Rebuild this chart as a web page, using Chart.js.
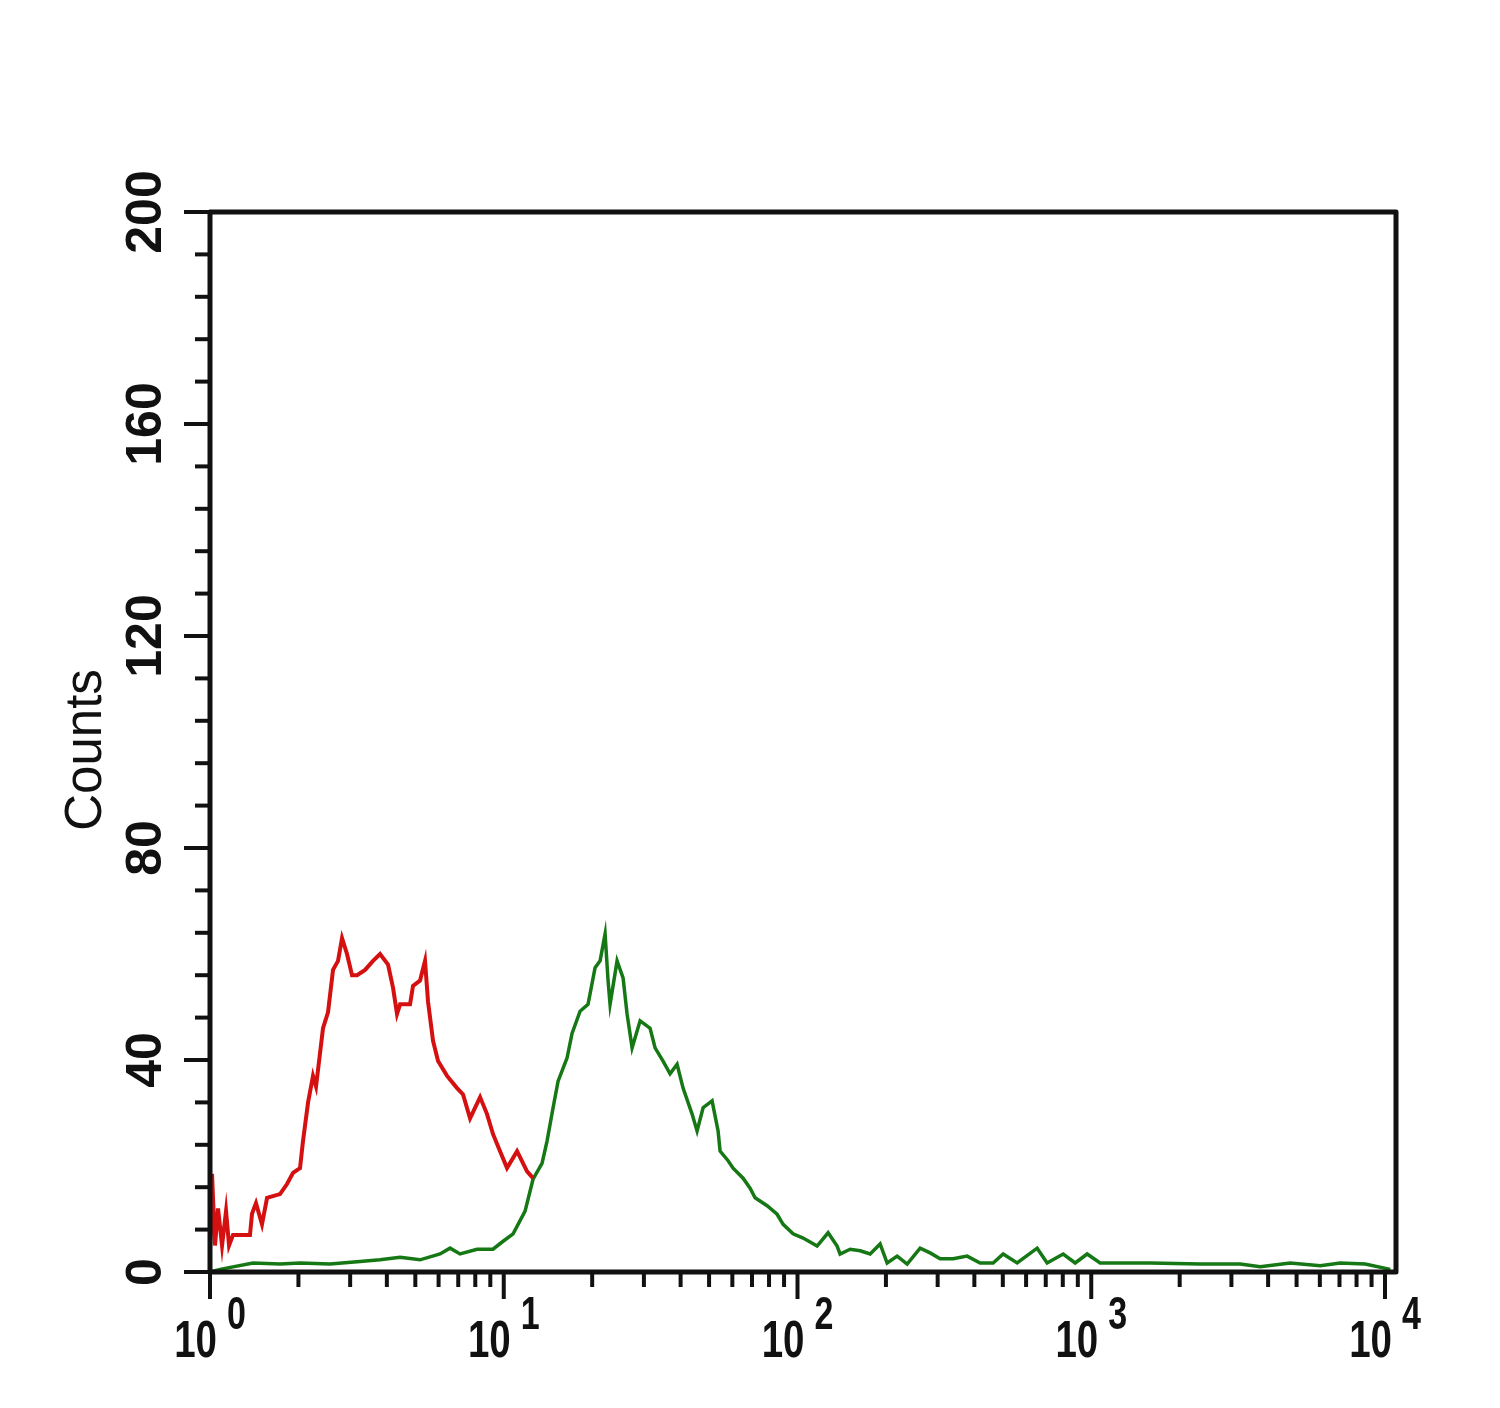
<!DOCTYPE html>
<html>
<head>
<meta charset="utf-8">
<title>Counts histogram</title>
<script src="https://cdn.jsdelivr.net/npm/chart.js@4.4.1/dist/chart.umd.min.js"></script>
<style>
  html, body { margin: 0; padding: 0; background: #fff; }
  #wrap { position: relative; width: 1500px; height: 1408px; }
</style>
</head>
<body>
<div id="wrap"><canvas id="histChart"></canvas></div>
<script>
// values (x = fluorescence, log scale; y = counts)
const redX = [1.000, 1.016, 1.040, 1.065, 1.099, 1.134, 1.161, 1.198, 1.368, 1.390, 1.434, 1.503, 1.564,
  1.731, 1.829, 1.917, 2.025, 2.073, 2.157, 2.242, 2.296, 2.425, 2.522, 2.623, 2.728, 2.815, 2.927,
  3.044, 3.166, 3.372, 3.589, 3.792, 4.037, 4.199, 4.332, 4.436, 4.797, 4.911, 5.188, 5.395, 5.524,
  5.745, 5.975, 6.412, 6.934, 7.268, 7.679, 8.306, 8.772, 9.195, 9.714, 10.26, 11.10, 12.00, 12.58];
const redY = [4, 18.5, 5, 12, 5, 11.5, 5, 7, 7, 11, 13, 9, 14,
  14.7, 16.6, 18.7, 19.6, 24.7, 32, 37, 35, 46, 49, 57, 58.7, 63, 60,
  56, 56, 57, 58.7, 60, 58, 53.6, 48.7, 50.5, 50.5, 54, 55, 58.7, 51,
  43.6, 39.8, 37, 34.7, 33.5, 29, 33, 29.8, 26, 22.8, 19.6, 22.8, 19, 17.7];

const greenX = [1.000, 1.082, 1.401, 1.731, 2.025, 2.562, 3.242, 3.792, 4.436, 5.188, 6.069, 6.565, 7.099,
  8.11, 9.19, 9.95, 10.76, 11.82, 12.58, 13.50, 14.04, 14.72, 15.31, 16.43, 17.08, 18.19, 19.36,
  20.46, 21.28, 22.13, 22.65, 23.01, 24.31, 25.48, 26.29, 27.35, 29.12, 31.49, 32.75, 34.86, 36.83,
  38.91, 40.78, 43.77, 45.51, 47.71, 51.19, 53.66, 54.51, 58.04, 60.36, 65.27, 68.95, 71.71, 78.80,
  85.21, 89.35, 96.6, 104.5, 116.6, 127.1, 136.4, 139.6, 151.1, 163.4, 176.7, 191.1, 201.9, 218.4,
  236.2, 261.5, 282.8, 305.9, 338.8, 378.0, 418.5, 463.4, 501.2, 559.4, 654.3, 707.6, 802.4, 881.6,
  968.3, 1072, 1587, 2349, 3214, 3760, 4755, 6018, 7039, 8563, 10416];
const greenY = [0, 0.5, 1.7, 1.5, 1.7, 1.5, 2, 2.3, 2.8, 2.3, 3.4, 4.5, 3.4,
  4.3, 4.3, 5.8, 7.2, 11.5, 17.5, 20.5, 24.7, 31, 36, 40.4, 45, 49.2, 50.5,
  57.4, 58.7, 63.8, 55, 50.5, 58.7, 55.5, 48.7, 42.3, 47.4, 46, 42.3, 39.8, 37.4,
  39.2, 34.7, 29.8, 26.6, 31, 32.3, 26.6, 22.8, 21, 19.6, 17.7, 15.8, 14, 12.5,
  10.9, 9, 7.2, 6.4, 4.9, 7.4, 4.9, 3.4, 4.3, 4, 3.4, 5.3, 1.7, 3,
  1.5, 4.5, 3.6, 2.5, 2.5, 3, 1.7, 1.7, 3.4, 1.7, 4.5, 1.7, 3.4, 1.7,
  3.4, 1.7, 1.7, 1.5, 1.5, 1, 1.7, 1.2, 1.7, 1.5, 0.5];

const yTicks = [0, 40, 80, 120, 160, 200];
const xDecades = [0, 1, 2, 3, 4];

const toPoints = (xs, ys) => xs.map((x, i) => ({ x, y: ys[i] }));

const INK = '#111';
const LABEL_FONT = 'bold 50px "Liberation Sans", Arial, sans-serif';
const XBASE_FONT = 'bold 52px "Liberation Sans", Arial, sans-serif';
const XSUP_FONT = 'bold 46px "Liberation Sans", Arial, sans-serif';
const NARROW = 0.74; // x labels in the picture are condensed

// frame, ticks and labels drawn on top of the plotted lines
const axesPlugin = {
  id: 'flowAxes',
  afterDraw(chart) {
    const { ctx, chartArea: a } = chart;
    const xs = chart.scales.x;
    const ys = chart.scales.y;
    ctx.save();
    ctx.strokeStyle = INK;
    ctx.fillStyle = INK;
    ctx.lineCap = 'butt';

    // y ticks: minor every 8 counts, major every 40
    ctx.lineWidth = 4;
    for (let v = 0; v <= 200; v += 8) {
      const py = ys.getPixelForValue(v);
      const len = v % 40 === 0 ? 26 : 15;
      ctx.beginPath();
      ctx.moveTo(a.left - len, py);
      ctx.lineTo(a.left, py);
      ctx.stroke();
    }

    // x ticks: log decades with 2..9 minors
    xDecades.forEach(d => {
      const last = d === xDecades[xDecades.length - 1];
      for (let k = 1; k <= (last ? 1 : 9); k++) {
        const px = xs.getPixelForValue(k * Math.pow(10, d));
        const len = k === 1 ? 27 : 15;
        ctx.beginPath();
        ctx.moveTo(px, a.bottom);
        ctx.lineTo(px, a.bottom + len);
        ctx.stroke();
      }
    });

    // box
    ctx.lineWidth = 5;
    ctx.lineJoin = 'round';
    ctx.strokeRect(a.left, a.top, a.right - a.left, a.bottom - a.top);

    // y labels, rotated
    ctx.font = LABEL_FONT;
    ctx.textAlign = 'center';
    ctx.textBaseline = 'middle';
    yTicks.forEach(v => {
      const py = ys.getPixelForValue(v);
      ctx.save();
      ctx.translate(147, py);
      ctx.rotate(-Math.PI / 2);
      ctx.fillText(String(v), 0, 0);
      ctx.restore();
    });

    // y title
    ctx.save();
    ctx.font = '51px "Liberation Sans", Arial, sans-serif';
    ctx.translate(87, (a.top + a.bottom) / 2 + 8);
    ctx.rotate(-Math.PI / 2);
    ctx.fillText('Counts', 0, 0);
    ctx.restore();

    // x labels: 10 with superscript exponent, condensed
    ctx.textBaseline = 'alphabetic';
    xDecades.forEach(d => {
      const px = xs.getPixelForValue(Math.pow(10, d));
      ctx.save();
      ctx.translate(px + 7, 1357);
      ctx.scale(NARROW, 1);
      ctx.font = XBASE_FONT;
      ctx.textAlign = 'right';
      ctx.fillText('10', 0, 0);
      ctx.font = XSUP_FONT;
      ctx.textAlign = 'left';
      ctx.fillText(String(d), 10 / NARROW, -28);
      ctx.restore();
    });

    ctx.restore();
  }
};

new Chart(document.getElementById('histChart'), {
  type: 'line',
  data: {
    datasets: [
      {
        label: 'Control',
        data: toPoints(redX, redY),
        borderColor: '#d41010',
        borderWidth: 4,
        pointRadius: 0,
        tension: 0
      },
      {
        label: 'Sample',
        data: toPoints(greenX, greenY),
        borderColor: '#157815',
        borderWidth: 3.5,
        pointRadius: 0,
        tension: 0
      }
    ]
  },
  options: {
    responsive: true,
    maintainAspectRatio: false,
    animation: false,
    devicePixelRatio: 1,
    layout: { padding: { left: 210, right: 104, top: 212, bottom: 136 } },
    plugins: {
      legend: { display: false },
      tooltip: { enabled: false }
    },
    scales: {
      x: { type: 'logarithmic', min: 1, max: 10900, display: false },
      y: { type: 'linear', min: 0, max: 200, display: false }
    }
  },
  plugins: [axesPlugin]
});
</script>
</body>
</html>
